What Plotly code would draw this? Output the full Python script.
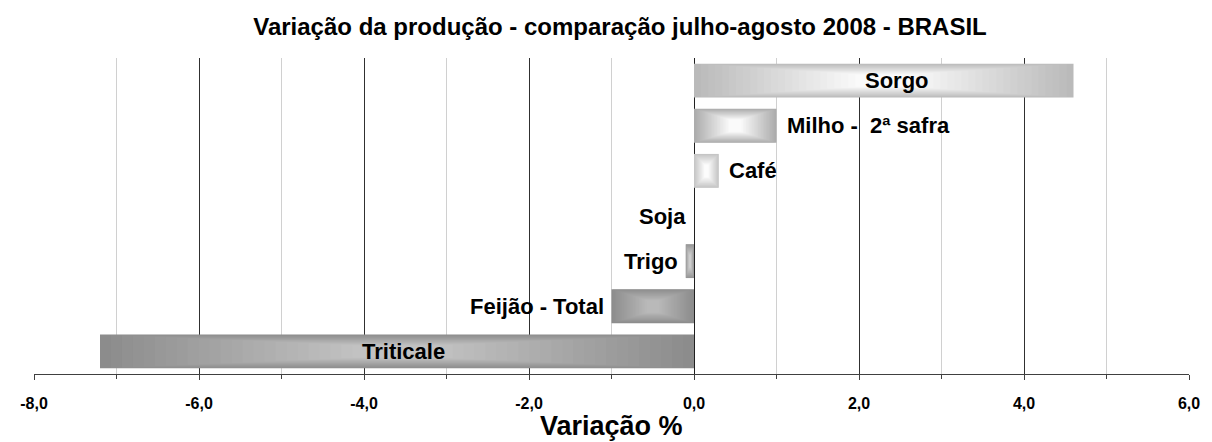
import plotly.graph_objects as go

# Data (top to bottom as shown)
categories = ["Sorgo", "Milho -  2ª safra", "Café", "Soja", "Trigo", "Feijão - Total", "Triticale"]
values = [4.6, 1.0, 0.3, 0.0, -0.1, -1.0, -7.2]
label_inside = [True, False, False, False, False, False, True]
tick_vals = [-8, -6, -4, -2, 0, 2, 4, 6]
tick_text = ["<b>%s</b>" % ("%.1f" % v).replace(".", ",") for v in tick_vals]

# Styles
edge_colors = [(186, 186, 186), (172, 172, 172), (196, 196, 196), (150, 150, 150), (150, 150, 150), (140, 140, 140), (140, 140, 140)]
center_colors = [(250, 250, 250), (250, 250, 250), (252, 252, 252), (205, 205, 205), (205, 205, 205), (185, 185, 185), (194, 194, 194)]
inside_label_shift = {"Sorgo": 13, "Triticale": 6}

FONT = "Liberation Sans, Arial, sans-serif"
BAR_W = 0.75
N_LAYERS = 24

fig = go.Figure()

for k in range(N_LAYERS):
    t = k / (N_LAYERS - 1)
    f = t * 0.85
    cols = []
    for e, c in zip(edge_colors, center_colors):
        rgb = tuple(int(round(e[i] + (c[i] - e[i]) * t)) for i in range(3))
        cols.append("rgb(%d,%d,%d)" % rgb)
    fig.add_trace(go.Bar(
        y=categories,
        x=[v * (1 - f) for v in values],
        base=[v * f / 2 for v in values],
        orientation="h",
        width=BAR_W * (1 - f * 0.75),
        marker=dict(color=cols, line=dict(width=0)),
        hoverinfo="skip",
        showlegend=False,
    ))

# Labels
for cat, v, inside in zip(categories, values, label_inside):
    if inside:
        fig.add_annotation(x=v / 2, y=cat, text="<b>%s</b>" % cat, showarrow=False,
                           xanchor="center", yanchor="middle", xshift=inside_label_shift.get(cat, 0),
                           font=dict(family=FONT, size=22, color="black"))
    elif v > 0:
        fig.add_annotation(x=v, y=cat, text="<b>%s</b>" % cat, showarrow=False,
                           xanchor="left", yanchor="middle", xshift=8,
                           font=dict(family=FONT, size=22, color="black"))
    else:
        fig.add_annotation(x=v, y=cat, text="<b>%s</b>" % cat, showarrow=False,
                           xanchor="right", yanchor="middle", xshift=-6,
                           font=dict(family=FONT, size=22, color="black"))

fig.add_annotation(x=0.5, y=-0.165, xref="paper", yref="paper", text="<b>Variação %</b>",
                   showarrow=False, xanchor="center", yanchor="middle",
                   font=dict(family=FONT, size=27, color="black"))

# page body has an 8px margin: figure is 1204x434 placed at (8,8)
fig.update_layout(
    width=1204, height=434,
    margin=dict(l=23, r=15, t=50, b=68),
    paper_bgcolor="white", plot_bgcolor="white",
    barmode="overlay",
    title=dict(text="<b>Variação da produção - comparação julho-agosto 2008 - BRASIL</b>",
               x=(620 - 8) / 1204, xref="container", xanchor="center", y=1 - 19 / 434, yanchor="middle",
               font=dict(family=FONT, size=24, color="black")),
    xaxis=dict(
        range=[-8, 6], tickvals=tick_vals, ticktext=tick_text,
        showgrid=True, gridcolor="#303030", gridwidth=1,
        minor=dict(dtick=1, showgrid=True, gridcolor="#d0d0d0", gridwidth=1,
                   ticks="outside", ticklen=4, tickcolor="#404040"),
        ticks="outside", ticklen=5, tickcolor="#404040",
        showline=True, linecolor="#404040", linewidth=1,
        zeroline=True, zerolinecolor="#202020", zerolinewidth=1,
        tickfont=dict(family=FONT, size=16, color="black"),
        ticklabelstandoff=10,
    ),
    yaxis=dict(
        range=[6.5, -0.5], showticklabels=False, showgrid=False, zeroline=False,
        showline=False, ticks="",
    ),
)

fig.write_html("out.html")
